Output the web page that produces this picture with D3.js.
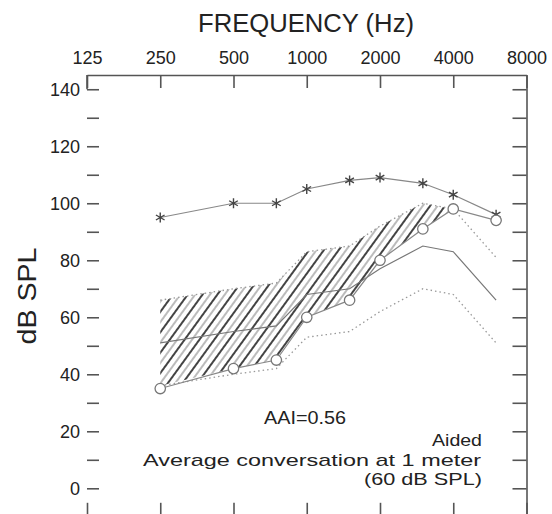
<!DOCTYPE html>
<html>
<head>
<meta charset="utf-8">
<script src="https://cdn.jsdelivr.net/npm/d3@7"></script>
<style>
	body { margin: 0; background: #fff; }
	text { font-family: "Liberation Sans", Arial, sans-serif; fill: #222; }
</style>
</head>
<body>
<div id="chart"></div>
<script>
const frequencies = [250, 500, 750, 1000, 1500, 2000, 3000, 4000, 6000];
const discomfort = [95, 100, 100, 105, 108, 109, 107, 103, 96];
const aidedThresholds = [35, 42, 45, 60, 66, 80, 91, 98, 94];
const speechMean = [51, 55, 57, 68, 70, 77, 85, 83, 66];
const speechUpper = [66, 70, 72, 83, 85, 92, 100, 98, 81];
const speechLower = [36, 40, 42, 53, 55, 62, 70, 68, 51];
const octaveTicks = [125, 250, 500, 1000, 2000, 4000, 8000];
const dbTicks = [0, 10, 20, 30, 40, 50, 60, 70, 80, 90, 100, 110, 120, 130, 140];
const dbLabels = [0, 20, 40, 60, 80, 100, 120, 140];

const w = 552;
const h = 514;
const plotLeft = 87;
const plotRight = 526.5;
const plotTop = 75;

const xScale = d3.scaleLog().base(2).domain([125, 8000]).range([plotLeft, plotRight]);
const yScale = d3.scaleLinear().domain([-10, 145]).range([516.8, plotTop]);

const svg = d3
	.select("#chart")
	.append("svg")
	.attr("width", w)
	.attr("height", h);

// hatch pattern for the audible part of the speech region
const defs = svg.append("defs");
const pattern = defs
	.append("pattern")
	.attr("id", "hatch")
	.attr("patternUnits", "userSpaceOnUse")
	.attr("width", 12)
	.attr("height", 12)
	.attr("patternTransform", "rotate(36)");
pattern
	.append("line")
	.attr("x1", 1).attr("y1", 0).attr("x2", 1).attr("y2", 12)
	.attr("stroke", "#3a3a3a").attr("stroke-width", 1.9);
pattern
	.append("line")
	.attr("x1", 7).attr("y1", 0).attr("x2", 7).attr("y2", 12)
	.attr("stroke", "#777").attr("stroke-width", 1);

const rows = frequencies.map((f, i) => ({
	f: f,
	upper: speechUpper[i],
	lower: speechLower[i],
	mean: speechMean[i],
	thr: aidedThresholds[i],
	ucl: discomfort[i],
}));

const hatchArea = d3
	.area()
	.x((d) => xScale(d.f))
	.y1((d) => yScale(d.upper))
	.y0((d) => yScale(Math.min(d.upper, Math.max(d.lower, d.thr))));

svg
	.append("path")
	.datum(rows)
	.attr("d", hatchArea)
	.attr("fill", "url(#hatch)");

const lineOf = (key) =>
	d3
		.line()
		.x((d) => xScale(d.f))
		.y((d) => yScale(d[key]));

// speech region boundaries
["upper", "lower"].forEach((key) => {
	svg
		.append("path")
		.datum(rows)
		.attr("d", lineOf(key))
		.attr("fill", "none")
		.attr("stroke", "#999")
		.attr("stroke-width", 1.3)
		.attr("stroke-dasharray", "1.5,3");
});

svg
	.append("path")
	.datum(rows)
	.attr("d", lineOf("mean"))
	.attr("fill", "none")
	.attr("stroke", "#777")
	.attr("stroke-width", 1.2);

svg
	.append("path")
	.datum(rows)
	.attr("d", lineOf("thr"))
	.attr("fill", "none")
	.attr("stroke", "#888")
	.attr("stroke-width", 1.2);

svg
	.append("path")
	.datum(rows)
	.attr("d", lineOf("ucl"))
	.attr("fill", "none")
	.attr("stroke", "#888")
	.attr("stroke-width", 1.2);

// markers
svg
	.selectAll(".star")
	.data(rows)
	.enter()
	.append("path")
	.attr("class", "star")
	.attr("d", d3.symbol(d3.symbolAsterisk, 70))
	.attr("transform", (d) => "translate(" + xScale(d.f) + "," + yScale(d.ucl) + ")")
	.attr("fill", "none")
	.attr("stroke", "#444")
	.attr("stroke-width", 1.4);

svg
	.selectAll(".thr")
	.data(rows)
	.enter()
	.append("circle")
	.attr("class", "thr")
	.attr("cx", (d) => xScale(d.f))
	.attr("cy", (d) => yScale(d.thr))
	.attr("r", 5.2)
	.attr("fill", "#fff")
	.attr("stroke", "#777")
	.attr("stroke-width", 1.3);

// axes
const axisStyle = (g) => {
	g.selectAll(".tick line").attr("stroke", "#555").attr("stroke-width", 1.6);
	g.select(".domain").attr("stroke", "#555").attr("stroke-width", 1.6);
	g.selectAll("text").attr("font-size", 18).attr("fill", "#222").attr("font-family", "Liberation Sans");
};

svg
	.append("g")
	.attr("transform", "translate(0," + plotTop + ")")
	.call(
		d3.axisTop(xScale).tickValues(octaveTicks).tickFormat(d3.format("d")).tickSize(-13).tickSizeOuter(0).tickPadding(11)
	)
	.call(axisStyle);

svg
	.append("g")
	.attr("transform", "translate(" + plotRight + ",0)")
	.call(d3.axisRight(yScale).tickValues(dbTicks).tickFormat("").tickSize(-14).tickSizeOuter(0))
	.call(axisStyle);

svg
	.append("g")
	.attr("transform", "translate(0," + yScale(-10) + ")")
	.call(d3.axisBottom(xScale).tickValues(octaveTicks).tickFormat("").tickSize(-14).tickSizeOuter(0))
	.call(axisStyle);

const leftAxis = svg
	.append("g")
	.attr("transform", "translate(" + plotLeft + ",0)")
	.call(
		d3
			.axisLeft(yScale)
			.tickValues(dbTicks)
			.tickFormat((d) => (dbLabels.includes(d) ? d : ""))
			.tickSize(-12)
			.tickPadding(7)
	)
	.call(axisStyle);
leftAxis.select(".domain").remove();

svg
	.append("line")
	.attr("x1", plotLeft)
	.attr("x2", plotLeft)
	.attr("y1", plotTop)
	.attr("y2", yScale(140))
	.attr("stroke", "#555")
	.attr("stroke-width", 1.6);

// titles
svg
	.append("text")
	.attr("x", 306)
	.attr("y", 32)
	.attr("text-anchor", "middle")
	.attr("font-size", 25)
	.attr("textLength", 216)
	.attr("lengthAdjust", "spacingAndGlyphs")
	.text("FREQUENCY (Hz)");

svg
	.append("text")
	.attr("transform", "translate(36,296) rotate(-90)")
	.attr("text-anchor", "middle")
	.attr("font-size", 26)
	.attr("textLength", 97)
	.attr("lengthAdjust", "spacingAndGlyphs")
	.text("dB SPL");

svg
	.append("text")
	.attr("x", 264)
	.attr("y", 424)
	.attr("font-size", 18)
	.attr("textLength", 82)
	.attr("lengthAdjust", "spacingAndGlyphs")
	.text("AAI=0.56");

const notes = [
	{ text: "Aided", x: 432, y: 446, len: 50 },
	{ text: "Average conversation at 1 meter", x: 143, y: 466, len: 338 },
	{ text: "(60 dB SPL)", x: 364, y: 485, len: 118 },
];
svg
	.selectAll(".note")
	.data(notes)
	.enter()
	.append("text")
	.attr("class", "note")
	.attr("x", (d) => d.x)
	.attr("y", (d) => d.y)
	.attr("font-size", 17)
	.attr("textLength", (d) => d.len)
	.attr("lengthAdjust", "spacingAndGlyphs")
	.text((d) => d.text);
</script>
</body>
</html>
